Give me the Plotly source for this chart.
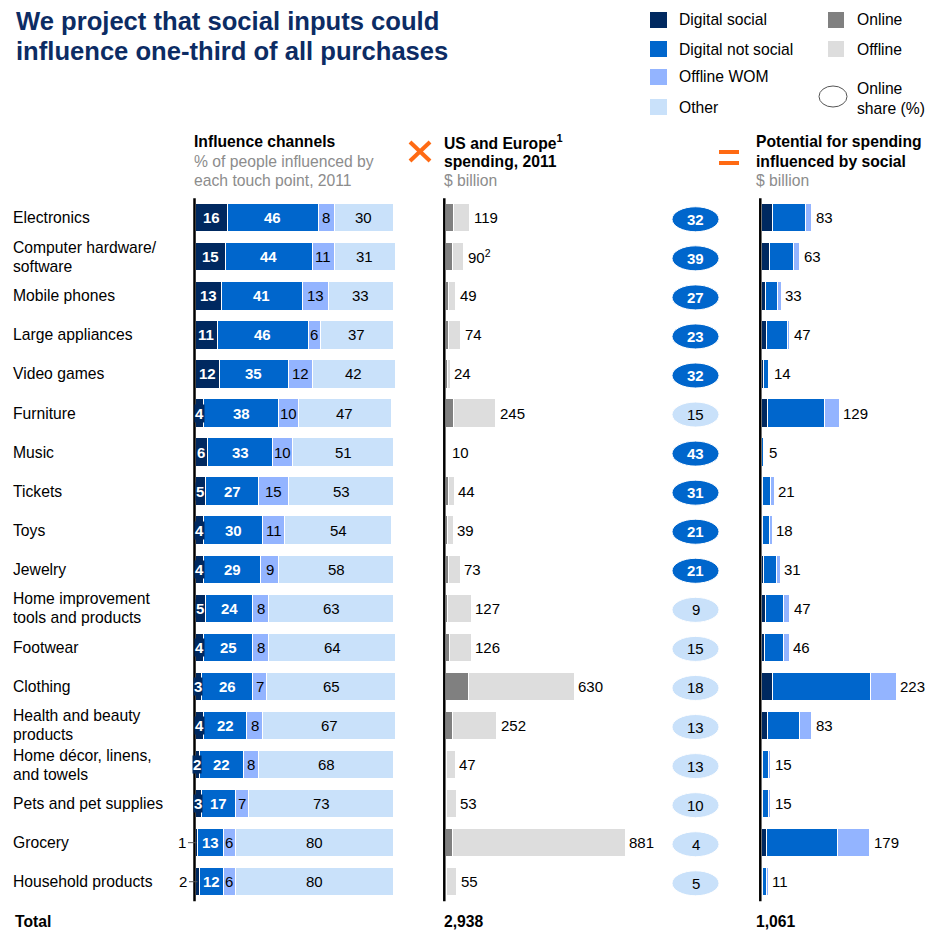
import plotly.graph_objects as go

# ---------------- data ----------------
categories = ["Electronics", "Computer hardware/<br>software", "Mobile phones", "Large appliances",
              "Video games", "Furniture", "Music", "Tickets", "Toys", "Jewelry",
              "Home improvement<br>tools and products", "Footwear", "Clothing",
              "Health and beauty<br>products", "Home décor, linens,<br>and towels",
              "Pets and pet supplies", "Grocery", "Household products"]
digital_social = [16, 15, 13, 11, 12, 4, 6, 5, 4, 4, 5, 4, 3, 4, 2, 3, 1, 2]
digital_not_social = [46, 44, 41, 46, 35, 38, 33, 27, 30, 29, 24, 25, 26, 22, 22, 17, 13, 12]
offline_wom = [8, 11, 13, 6, 12, 10, 10, 15, 11, 9, 8, 8, 7, 8, 8, 7, 6, 6]
other = [30, 31, 33, 37, 42, 47, 51, 53, 54, 58, 63, 64, 65, 67, 68, 73, 80, 80]
spending = [119, 90, 49, 74, 24, 245, 10, 44, 39, 73, 127, 126, 630, 252, 47, 53, 881, 55]
spending_footnotes = {1: "2"}
online_share = [32, 39, 27, 23, 32, 15, 43, 31, 21, 21, 9, 15, 18, 13, 13, 10, 4, 5]
potential = [83, 63, 33, 47, 14, 129, 5, 21, 18, 31, 47, 46, 223, 83, 15, 15, 179, 11]
total_spending = "2,938"
total_potential = "1,061"
outside_label_rows = {"Grocery", "Household products"}

# ---------------- styling ----------------
W, H = 929, 932
FONT = "Arial, 'Liberation Sans', sans-serif"
NAVY = "#002960"
BLUE = "#0066CC"
WOM = "#93B4FF"
OTHER = "#C9E1FA"
ONLINE = "#808080"
OFFLINE = "#DDDDDD"
TITLE = "#0C2C64"
ORANGE = "#FF6A13"
GREY_TXT = "#8C8C8C"

ROW0 = 217.7      # pixel y of first row centre
ROWSTEP = 39.06   # pixels per row
n = len(categories)
y_idx = list(range(n))


def px(x):
    return x / W


def py(y):
    return 1 - y / H


fig = go.Figure()

L0, LS = 195.5, 1.98
M0, MS = 445.5, 0.2043
R0, RS = 761.5, 0.604

bar_w = 0.727
line = dict(color="white", width=1)
for vals, col in [(digital_social, NAVY), (digital_not_social, BLUE), (offline_wom, WOM), (other, OTHER)]:
    fig.add_trace(go.Bar(x=vals, y=y_idx, orientation="h", marker=dict(color=col, line=line),
                         width=bar_w, xaxis="x", yaxis="y", showlegend=False, hoverinfo="skip"))

online = [s * p / 100 for s, p in zip(spending, online_share)]
offline = [s - o for s, o in zip(spending, online)]
for vals, col in [(online, ONLINE), (offline, OFFLINE)]:
    fig.add_trace(go.Bar(x=vals, y=y_idx, orientation="h", marker=dict(color=col, line=line),
                         width=bar_w, xaxis="x2", yaxis="y", showlegend=False, hoverinfo="skip"))

social_sum = [a + b + c for a, b, c in zip(digital_social, digital_not_social, offline_wom)]
for vals, col in [(digital_social, NAVY), (digital_not_social, BLUE), (offline_wom, WOM)]:
    seg = [p * v / s for p, v, s in zip(potential, vals, social_sum)]
    fig.add_trace(go.Bar(x=seg, y=y_idx, orientation="h", marker=dict(color=col, line=line),
                         width=bar_w, xaxis="x3", yaxis="y", showlegend=False, hoverinfo="skip"))

ann = []
shapes = []


def txt(x, y, text, size=15.7, color="black", bold=False, xanchor="left", xref="paper", yref="paper",
        yshift=0, xshift=0, **kw):
    if bold:
        text = "<b>" + text + "</b>"
    d = dict(x=x, y=y, xref=xref, yref=yref, text=text, showarrow=False, xanchor=xanchor,
             yanchor="middle", font=dict(family=FONT, size=size, color=color), yshift=yshift, xshift=xshift)
    d.update(kw)
    ann.append(d)


for i in range(n):
    ds, dn, wo, ot = digital_social[i], digital_not_social[i], offline_wom[i], other[i]
    if categories[i] in outside_label_rows:
        ann.append(dict(x=ds / 2, y=i, xref="x", yref="y", text=str(ds), showarrow=True, arrowhead=0,
                        arrowwidth=1, arrowcolor="#555555", ax=-14, ay=0, standoff=0,
                        font=dict(family=FONT, size=15, color="black")))
    else:
        ann.append(dict(x=ds / 2, y=i, xref="x", yref="y", text="<b>%d</b>" % ds, showarrow=False,
                        bgcolor=NAVY, borderpad=0, font=dict(family=FONT, size=15, color="white")))
    txt(ds + dn / 2, i, str(dn), size=15, color="white", bold=True, xanchor="center", xref="x", yref="y")
    txt(ds + dn + wo / 2, i, str(wo), size=15, xanchor="center", xref="x", yref="y")
    txt(ds + dn + wo + ot / 2, i, str(ot), size=15, xanchor="center", xref="x", yref="y")
    lab = str(spending[i])
    if i in spending_footnotes:
        lab += "<sup>" + spending_footnotes[i] + "</sup>"
    txt(spending[i], i, lab, size=15, xref="x2", yref="y", xshift=2)
    txt(potential[i], i, str(potential[i]), size=15, xref="x3", yref="y", xshift=2)
    dark = online_share[i] >= 20
    shapes.append(dict(type="circle", xref="paper", yref="y", x0=px(672), x1=px(719),
                       y0=i + 0.04 - 0.32, y1=i + 0.04 + 0.32,
                       fillcolor=BLUE if dark else OTHER, line=dict(color="white", width=1), layer="above"))
    txt(px(695.5), i + 0.04, str(online_share[i]), size=15, color="white" if dark else "black",
        bold=dark, xanchor="center", yref="y")
    lines = categories[i].split("<br>")
    if len(lines) == 1:
        txt(px(11), i, lines[0], yref="y")
    else:
        txt(px(11), i, lines[0], yref="y", yshift=9.5)
        txt(px(11), i, lines[1], yref="y", yshift=-9.5)

for xp in (194.5, 444.3, 760.3):
    shapes.append(dict(type="line", xref="paper", yref="y", x0=px(xp), x1=px(xp), y0=-0.5, y1=17.5,
                       line=dict(color="black", width=2.5), layer="above"))

txt(px(14), py(21), "We project that social inputs could", size=25.6, color=TITLE, bold=True)
txt(px(14), py(51), "influence one-third of all purchases", size=25.6, color=TITLE, bold=True)

leg1 = [("Digital social", NAVY, 20), ("Digital not social", BLUE, 49), ("Offline WOM", WOM, 77), ("Other", OTHER, 107)]
for name, col, yc in leg1:
    shapes.append(dict(type="rect", xref="paper", yref="paper", x0=px(650), x1=px(667),
                       y0=py(yc - 8), y1=py(yc + 8), fillcolor=col, line=dict(width=0)))
    txt(px(677), py(yc), name)
for name, col, yc in [("Online", ONLINE, 20), ("Offline", OFFLINE, 49)]:
    shapes.append(dict(type="rect", xref="paper", yref="paper", x0=px(828), x1=px(844),
                       y0=py(yc - 8), y1=py(yc + 8), fillcolor=col, line=dict(width=0)))
    txt(px(855), py(yc), name)
shapes.append(dict(type="circle", xref="paper", yref="paper", x0=px(819), x1=px(847),
                   y0=py(86), y1=py(107), fillcolor="white", line=dict(color="#555555", width=1)))
txt(px(855), py(89), "Online")
txt(px(855), py(108), "share (%)")

txt(px(192), py(142), "Influence channels", bold=True)
txt(px(192), py(161), "% of people influenced by", color=GREY_TXT)
txt(px(192), py(180), "each touch point, 2011", color=GREY_TXT)
txt(px(442), py(142), "US and Europe<sup>1</sup>", bold=True)
txt(px(442), py(161), "spending, 2011", bold=True)
txt(px(442), py(180), "$ billion", color=GREY_TXT)
txt(px(754), py(142), "Potential for spending", bold=True)
txt(px(754), py(161), "influenced by social", bold=True)
txt(px(754), py(180), "$ billion", color=GREY_TXT)

for (x0, y0, x1, y1) in [(410, 142, 430, 161), (410, 161, 430, 142)]:
    shapes.append(dict(type="line", xref="paper", yref="paper", x0=px(x0), y0=py(y0), x1=px(x1), y1=py(y1),
                       line=dict(color=ORANGE, width=4)))
for yc in (152, 163):
    shapes.append(dict(type="rect", xref="paper", yref="paper", x0=px(719), x1=px(739),
                       y0=py(yc - 2), y1=py(yc + 2), fillcolor=ORANGE, line=dict(width=0)))

txt(px(13), py(921), "Total", bold=True)
txt(px(442), py(921), total_spending, bold=True)
txt(px(754), py(921), total_potential, bold=True)

ax_common = dict(showgrid=False, zeroline=False, showticklabels=False, showline=False, ticks="", fixedrange=True)
fig.update_layout(
    width=W, height=H, margin=dict(l=0, r=0, t=0, b=0),
    paper_bgcolor="white", plot_bgcolor="rgba(0,0,0,0)",
    barmode="stack", bargap=0,
    font=dict(family=FONT, size=15, color="black"),
    xaxis=dict(domain=[px(L0), px(410)], range=[0, (410 - L0) / LS], anchor="y", **ax_common),
    xaxis2=dict(domain=[px(M0), px(665)], range=[0, (665 - M0) / MS], anchor="y", **ax_common),
    xaxis3=dict(domain=[px(R0), 1.0], range=[0, (W - R0) / RS], anchor="y", **ax_common),
    yaxis=dict(domain=[0, 1], range=[(H - ROW0) / ROWSTEP, -ROW0 / ROWSTEP], **ax_common),
    annotations=ann, shapes=shapes,
)

fig.write_html("out.html", config={"displayModeBar": False, "staticPlot": True},
               post_script="document.body.style.margin='0';document.body.style.overflow='hidden';")
